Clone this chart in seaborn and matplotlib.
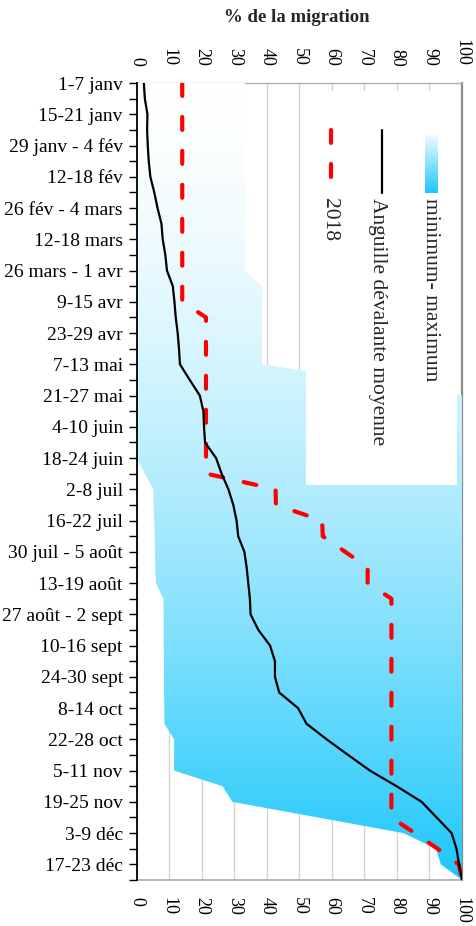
import numpy as np
import matplotlib
matplotlib.use("Agg")
import matplotlib.pyplot as plt
from matplotlib.patches import Rectangle
from matplotlib.lines import Line2D
import seaborn as sns

# ---------------- data ----------------
weeks = list(range(52))
week_labels = ["1-7 janv", "15-21 janv", "29 janv - 4 fév", "12-18 fév",
               "26 fév - 4 mars", "12-18 mars", "26 mars - 1 avr", "9-15 avr",
               "23-29 avr", "7-13 mai", "21-27 mai", "4-10 juin", "18-24 juin",
               "2-8 juil", "16-22 juil", "30 juil - 5 août", "13-19 août",
               "27 août - 2 sept", "10-16 sept", "24-30 sept", "8-14 oct",
               "22-28 oct", "5-11 nov", "19-25 nov", "3-9 déc", "17-23 déc"]

moyenne = [2.2, 2.5, 3.3, 3.2, 3.4, 3.7, 4.2, 5.4, 6.4, 7.6,
           8.0, 8.8, 9.3, 11.1, 11.6, 12.0, 12.6, 13.0, 13.3, 16.3,
           19.4, 20.5, 20.7, 21.0, 24.4, 26.1, 28.2, 29.7, 30.7, 31.2,
           33.1, 33.8, 34.3, 34.8, 35.0, 37.4, 41.0, 42.5, 42.5, 43.8,
           49.6, 52.2, 58.4, 65.0, 71.7, 79.9, 87.6, 92.2, 96.8, 98.3,
           99.1, 100.0]

y2018 = [14.0, 14.0, 14.0, 14.0, 14.0, 14.0, 14.0, 14.0, 14.0, 14.0,
         14.0, 14.0, 14.0, 14.0, 14.0, 21.3, 21.3, 21.3, 21.3, 21.3,
         21.3, 21.3, 21.3, 21.3, 21.3, 21.5, 42.7, 42.8, 57.0, 57.2,
         64.1, 71.0, 71.0, 78.3, 78.3, 78.3, 78.3, 78.3, 78.3, 78.3,
         78.3, 78.3, 78.3, 78.3, 78.3, 78.3, 78.3, 78.3, 85.5, 92.5,
         99.0, 100.0]

minimum = [0, 0, 0, 0, 0, 0, 0, 0, 0, 0,
           0, 0, 0, 0, 0, 0, 0, 0, 0, 0,
           0, 0, 0, 0, 0, 2.5, 5.1, 5.2, 5.4, 5.5,
           5.6, 5.7, 5.9, 8.2, 8.3, 8.3, 8.3, 8.4, 8.4, 8.4,
           8.5, 8.5, 11.5, 11.5, 11.5, 26.4, 29.4, 55.7, 82.0, 92.0,
           93.5, 100.0]

maximum = [33.3, 33.3, 33.3, 33.3, 33.3, 33.3, 33.3, 33.3, 33.3, 33.3,
           33.3, 33.3, 33.3, 38.5, 38.5, 38.5, 38.5, 38.5, 38.5, 70.0,
           100, 100, 100, 100, 100, 100, 100, 100, 100, 100,
           100, 100, 100, 100, 100, 100, 100, 100, 100, 100,
           100, 100, 100, 100, 100, 100, 100, 100, 100, 100,
           100, 100]

x_ticks = [0, 10, 20, 30, 40, 50, 60, 70, 80, 90, 100]
legend_labels = ["minimum- maximum", "Anguille dévalante moyenne", "2018"]
x_title = "% de la migration"

# ---------------- style ----------------
sns.set_style("white")
plt.rcParams["font.family"] = ["Liberation Serif", "DejaVu Serif"]

W, H = 476, 926
fig = plt.figure(figsize=(W / 100, H / 100), dpi=100)
L, R, T, B = 136.7, 462.0, 83.0, 880.0
ax = fig.add_axes([L / W, 1 - B / H, (R - L) / W, (B - T) / H])

end_col = np.array([0x1c, 0xc7, 0xfb]) / 255.0
white = np.array([1.0, 1.0, 1.0])

def grad_img(n, power):
    f = np.linspace(0, 1, n) ** power
    rgb = white[None, :] * (1 - f[:, None]) + end_col[None, :] * f[:, None]
    return rgb[:, None, :]

# min-max band with vertical gradient
band = ax.fill_betweenx(weeks, minimum, maximum, facecolor="none",
                        edgecolor="none")
clip = band.get_paths()[0]
im = ax.imshow(grad_img(400, 1.6), extent=[0, 100, 51, 0], aspect="auto",
               origin="upper", interpolation="bilinear", zorder=1)
im.set_clip_path(clip, transform=ax.transData)

# white legend box
ax.add_patch(Rectangle((0.5195, 0.4956), 0.4642, 0.494, transform=ax.transAxes,
                       facecolor="white", edgecolor="none", zorder=2))

# lines
sns.lineplot(x=moyenne, y=weeks, orient="y", color="black", linewidth=1.6,
             ax=ax, zorder=4)
sns.lineplot(x=y2018, y=weeks, orient="y", color="#ff0000", linewidth=3.0,
             ax=ax, zorder=3)
red = ax.lines[-1]
red.set_dashes((3.1, 5.05))
red.set_dash_capstyle("round")

# axes
ax.set_xlim(0, 100)
ax.set_ylim(51, 0)
ax.set_xticks(x_ticks)
ax.set_xticklabels([str(v) for v in x_ticks])
ax.set_yticks(weeks)
ylabs = [week_labels[i // 2] if i % 2 == 0 else "" for i in weeks]
ax.set_yticklabels(ylabs)
ax.set_xlabel("")
ax.set_ylabel("")

ax.set_axisbelow(True)
ax.xaxis.grid(True, color="#d4d4d4", linewidth=1.0)
ax.yaxis.grid(False)

ax.tick_params(axis="x", which="both", top=True, labeltop=True, bottom=True,
               labelbottom=True, length=0, pad=12, labelsize=13,
               labelrotation=-90, colors="black")
ax.tick_params(axis="y", which="both", left=True, length=6, width=1.0,
               direction="out", pad=4, labelsize=14, colors="black")

for s in ["top", "right", "bottom"]:
    ax.spines[s].set_zorder(0.6)
ax.spines["top"].set_color("#b0b0b0")
ax.spines["top"].set_linewidth(1.0)
ax.spines["right"].set_color("#8a8a8a")
ax.spines["right"].set_linewidth(1.6)
ax.spines["bottom"].set_color("#a8a8a8")
ax.spines["bottom"].set_linewidth(1.2)
ax.spines["left"].set_color("black")
ax.spines["left"].set_linewidth(1.3)
ax.spines["left"].set_zorder(5)

# title
fig.text(297 / W, 1 - 18 / H, x_title, ha="center", va="center",
         fontsize=13.5, fontweight="bold")

# legend (rotated, drawn manually)
def fx(px):
    return (px - L) / (R - L)

def fy(py):
    return 1 - (py - T) / (B - T)

y_top, y_bot = fy(130), fy(193.3)
gax = ax.inset_axes([fx(425), fy(193.3), fx(437.7) - fx(425), fy(131.7) - fy(193.3)])
gax.imshow(grad_img(100, 1.0), aspect="auto", origin="upper")
gax.set_axis_off()

ax.add_line(Line2D([fx(381.7), fx(381.7)], [y_top, y_bot], transform=ax.transAxes,
                   color="black", linewidth=1.6, zorder=6))
lr = Line2D([fx(330.7), fx(330.7)], [y_top, y_bot], transform=ax.transAxes,
            color="#ff0000", linewidth=3.0, zorder=6)
lr.set_dashes((3.1, 5.05))
lr.set_dash_capstyle("round")
ax.add_line(lr)

leg_x = [fx(430.8), fx(377.5), fx(330.0)]
for xx, lab in zip(leg_x, legend_labels):
    ax.text(xx, fy(198), lab, transform=ax.transAxes, rotation=-90,
            ha="center", va="top", fontsize=15.5, zorder=6)

fig.savefig("out.png", dpi=100)
